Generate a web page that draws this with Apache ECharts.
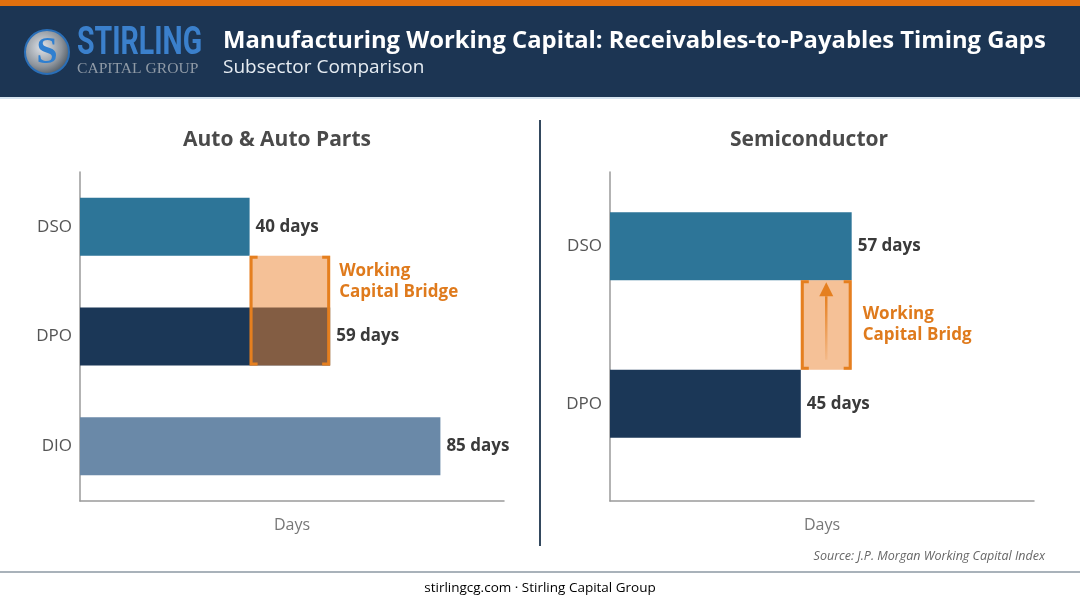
<!DOCTYPE html>
<html>
<head>
<meta charset="utf-8">
<title>Manufacturing Working Capital</title>
<script src="https://cdn.jsdelivr.net/npm/echarts@6/dist/echarts.min.js"></script>
<style>
	html, body { margin: 0; padding: 0; background: #fff; }
	#main { width: 1080px; height: 603px; }
</style>
</head>
<body>
<div id="main"></div>
<script>
	// 数据
	const autoCats = ['DSO', 'DPO', 'DIO'];
	const autoDays = [40, 59, 85];
	const semiCats = ['DSO', 'DPO'];
	const semiDays = [57, 45];
	// bridge: [from days, to days, from category, to category]
	const autoBridge = [autoDays[0], autoDays[1], 0, 1];
	const semiBridge = [semiDays[1], semiDays[0], 0, 1];
	const axisMax = 100;

	const FONT = 'Open Sans';
	const ORANGE = '#e57f1f';
	const barColors = { DSO: '#2d7598', DPO: '#1b3757', DIO: '#6a89a8' };

	function barData(cats, vals) {
		return vals.map((v, i) => ({ value: v, itemStyle: { color: barColors[cats[i]] } }));
	}

	// 画 bridge 方框
	function bridgeItem(barW, overlap, arrow, textW) {
		return function (params, api) {
			let pA = api.coord([api.value(0), api.value(2)]);
			let pB = api.coord([api.value(1), api.value(3)]);
			let left = pA[0], right = pB[0];
			let top = pA[1] + barW / 2;
			let nextTop = pB[1] - barW / 2;
			let bottom = overlap ? pB[1] + barW / 2 : nextTop;
			let s = 8, lw = 3;
			let line = { stroke: ORANGE, lineWidth: lw, fill: 'none' };
			let children = [{
				type: 'rect',
				shape: { x: left, y: top, width: right - left, height: bottom - top },
				style: { fill: 'rgba(236,132,48,0.5)' }
			}, {
				type: 'polyline',
				shape: { points: [[left + s, top + 1.5], [left + 1.5, top + 1.5], [left + 1.5, bottom - 1.5], [left + s, bottom - 1.5]] },
				style: line
			}, {
				type: 'polyline',
				shape: { points: [[right - s, top + 1.5], [right - 1.5, top + 1.5], [right - 1.5, bottom - 1.5], [right - s, bottom - 1.5]] },
				style: line
			}];
			if (arrow) {
				let cx = (left + right) / 2;
				children.push({
					type: 'line',
					shape: { x1: cx, y1: bottom - 10, x2: cx, y2: top + 16 },
					style: {
						lineWidth: 2.5,
						stroke: new echarts.graphic.LinearGradient(0, 1, 0, 0, [
							{ offset: 0, color: 'rgba(229,127,31,0.1)' },
							{ offset: 1, color: ORANGE }
						])
					}
				}, {
					type: 'polygon',
					shape: { points: [[cx, top + 2], [cx - 7, top + 16], [cx + 7, top + 16]] },
					style: { fill: ORANGE }
				});
			}
			let txt = {
				text: 'Working\nCapital Bridge',
				x: right + (arrow ? 11 : 9),
				y: (top + nextTop) / 2,
				fill: '#df7a1c',
				font: 'bold 17px "' + FONT + '"',
				lineHeight: 21,
				verticalAlign: 'middle'
			};
			if (textW) {
				txt.width = textW;
				txt.overflow = 'truncate';
				txt.ellipsis = '';
			}
			children.push({ type: 'text', style: txt });
			return { type: 'group', children: children };
		};
	}

	let barLabel = {
		show: true,
		position: 'right',
		distance: 6,
		formatter: '{c} days',
		fontFamily: FONT,
		fontWeight: 'bold',
		fontSize: 17,
		color: '#3a3a3a'
	};
	let axisLine = { show: true, lineStyle: { color: '#9a9a9a', width: 1.5 } };
	let daysName = {
		name: 'Days',
		nameLocation: 'middle',
		nameGap: 16,
		nameTextStyle: { fontFamily: FONT, fontSize: 16, color: '#777' }
	};
	let catLabel = { fontFamily: FONT, fontSize: 17, color: '#555', margin: 8 };

	let myChart = echarts.init(document.getElementById('main'));
	let option = {
		backgroundColor: '#fff',
		animation: false,
		grid: [
			{ left: 80, top: 172, width: 424, height: 329 },
			{ left: 610, top: 167.5, width: 424, height: 315 },
			{ left: 610, top: 172, width: 424, height: 329 }
		],
		xAxis: [
			Object.assign({ gridIndex: 0, type: 'value', min: 0, max: axisMax, axisLine: axisLine,
				axisTick: { show: false }, axisLabel: { show: false }, splitLine: { show: false } }, daysName),
			{ gridIndex: 1, type: 'value', min: 0, max: axisMax, show: false },
			Object.assign({ gridIndex: 2, type: 'value', min: 0, max: axisMax, axisLine: axisLine,
				axisTick: { show: false }, axisLabel: { show: false }, splitLine: { show: false } }, daysName)
		],
		yAxis: [
			{ gridIndex: 0, type: 'category', data: autoCats, inverse: true, axisLine: axisLine,
				axisTick: { show: false }, axisLabel: catLabel },
			{ gridIndex: 1, type: 'category', data: semiCats, inverse: true, axisLine: { show: false },
				axisTick: { show: false }, axisLabel: catLabel },
			{ gridIndex: 2, type: 'value', axisLine: axisLine, axisTick: { show: false },
				axisLabel: { show: false }, splitLine: { show: false } }
		],
		series: [{
			type: 'bar',
			xAxisIndex: 0,
			yAxisIndex: 0,
			barWidth: 58,
			data: barData(autoCats, autoDays),
			label: barLabel
		}, {
			type: 'custom',
			xAxisIndex: 0,
			yAxisIndex: 0,
			z: 5,
			silent: true,
			clip: false,
			renderItem: bridgeItem(58, true, false, 0),
			data: [autoBridge]
		}, {
			type: 'bar',
			xAxisIndex: 1,
			yAxisIndex: 1,
			barWidth: 68,
			data: barData(semiCats, semiDays),
			label: barLabel
		}, {
			type: 'custom',
			xAxisIndex: 1,
			yAxisIndex: 1,
			z: 5,
			silent: true,
			clip: false,
			renderItem: bridgeItem(68, false, true, 117),
			data: [semiBridge]
		}],
		graphic: [
			// 顶部条
			{ type: 'rect', shape: { x: 0, y: 0, width: 1080, height: 6 }, style: { fill: '#e0700f' } },
			{ type: 'rect', shape: { x: 0, y: 6, width: 1080, height: 91 }, style: { fill: '#1c3553' } },
			{ type: 'rect', shape: { x: 0, y: 97, width: 1080, height: 2 }, style: { fill: '#d6e4f0' } },
			// logo
			{
				type: 'circle', shape: { cx: 47, cy: 52, r: 22 },
				style: {
					fill: new echarts.graphic.RadialGradient(0.4, 0.4, 0.7, [
						{ offset: 0, color: '#e0e3e8' }, { offset: 0.6, color: '#8d949c' }, { offset: 1, color: '#3b4650' }
					]),
					stroke: '#2a6fb8', lineWidth: 2
				}
			},
			{
				type: 'text', x: 47, y: 53,
				style: { text: 'S', font: 'bold 38px "Liberation Serif"', fill: '#2f7fd0', align: 'center', verticalAlign: 'middle' }
			},
			{
				type: 'text', x: 77, y: 44, scaleX: 0.75,
				style: { text: 'STIRLING', font: 'bold 38px Roboto', fill: '#3b80cc', verticalAlign: 'middle' }
			},
			{
				type: 'text', x: 77, y: 69,
				style: { text: 'CAPITAL GROUP', font: '15.6px "Liberation Serif"', fill: '#8f9aa6', verticalAlign: 'middle' }
			},
			// 标题
			{
				type: 'text', x: 223, y: 41,
				style: { text: 'Manufacturing Working Capital: Receivables-to-Payables Timing Gaps', font: 'bold 23.8px "' + FONT + '"', fill: '#fff', verticalAlign: 'middle' }
			},
			{
				type: 'text', x: 223, y: 68,
				style: { text: 'Subsector Comparison', font: '19px "' + FONT + '"', fill: '#e6ecf2', verticalAlign: 'middle' }
			},
			// 小标题
			{
				type: 'text', x: 277, y: 140,
				style: { text: 'Auto & Auto Parts', font: 'bold 21px "' + FONT + '"', fill: '#4a4a4a', align: 'center', verticalAlign: 'middle' }
			},
			{
				type: 'text', x: 809, y: 140,
				style: { text: 'Semiconductor', font: 'bold 21px "' + FONT + '"', fill: '#4a4a4a', align: 'center', verticalAlign: 'middle' }
			},
			// 分隔线
			{ type: 'line', shape: { x1: 540, y1: 120, x2: 540, y2: 546 }, style: { stroke: '#34495e', lineWidth: 2 } },
			// 来源
			{
				type: 'text', x: 1045, y: 556,
				style: { text: 'Source: J.P. Morgan Working Capital Index', font: 'italic 12.5px "' + FONT + '"', fill: '#666', align: 'right', verticalAlign: 'middle' }
			},
			// 底部
			{ type: 'line', shape: { x1: 0, y1: 572, x2: 1080, y2: 572 }, style: { stroke: '#8d98a3', lineWidth: 1.5 } },
			{
				type: 'text', x: 540, y: 588,
				style: {
					text: '{a|stirlingcg.com}{b| · Stirling Capital Group}',
					align: 'center', verticalAlign: 'middle',
					rich: {
						a: { fontFamily: FONT, fontSize: 13.5, color: '#333' },
						b: { fontFamily: FONT, fontSize: 13.5, color: '#666' }
					}
				}
			}
		]
	};
	myChart.setOption(option);
</script>
</body>
</html>
